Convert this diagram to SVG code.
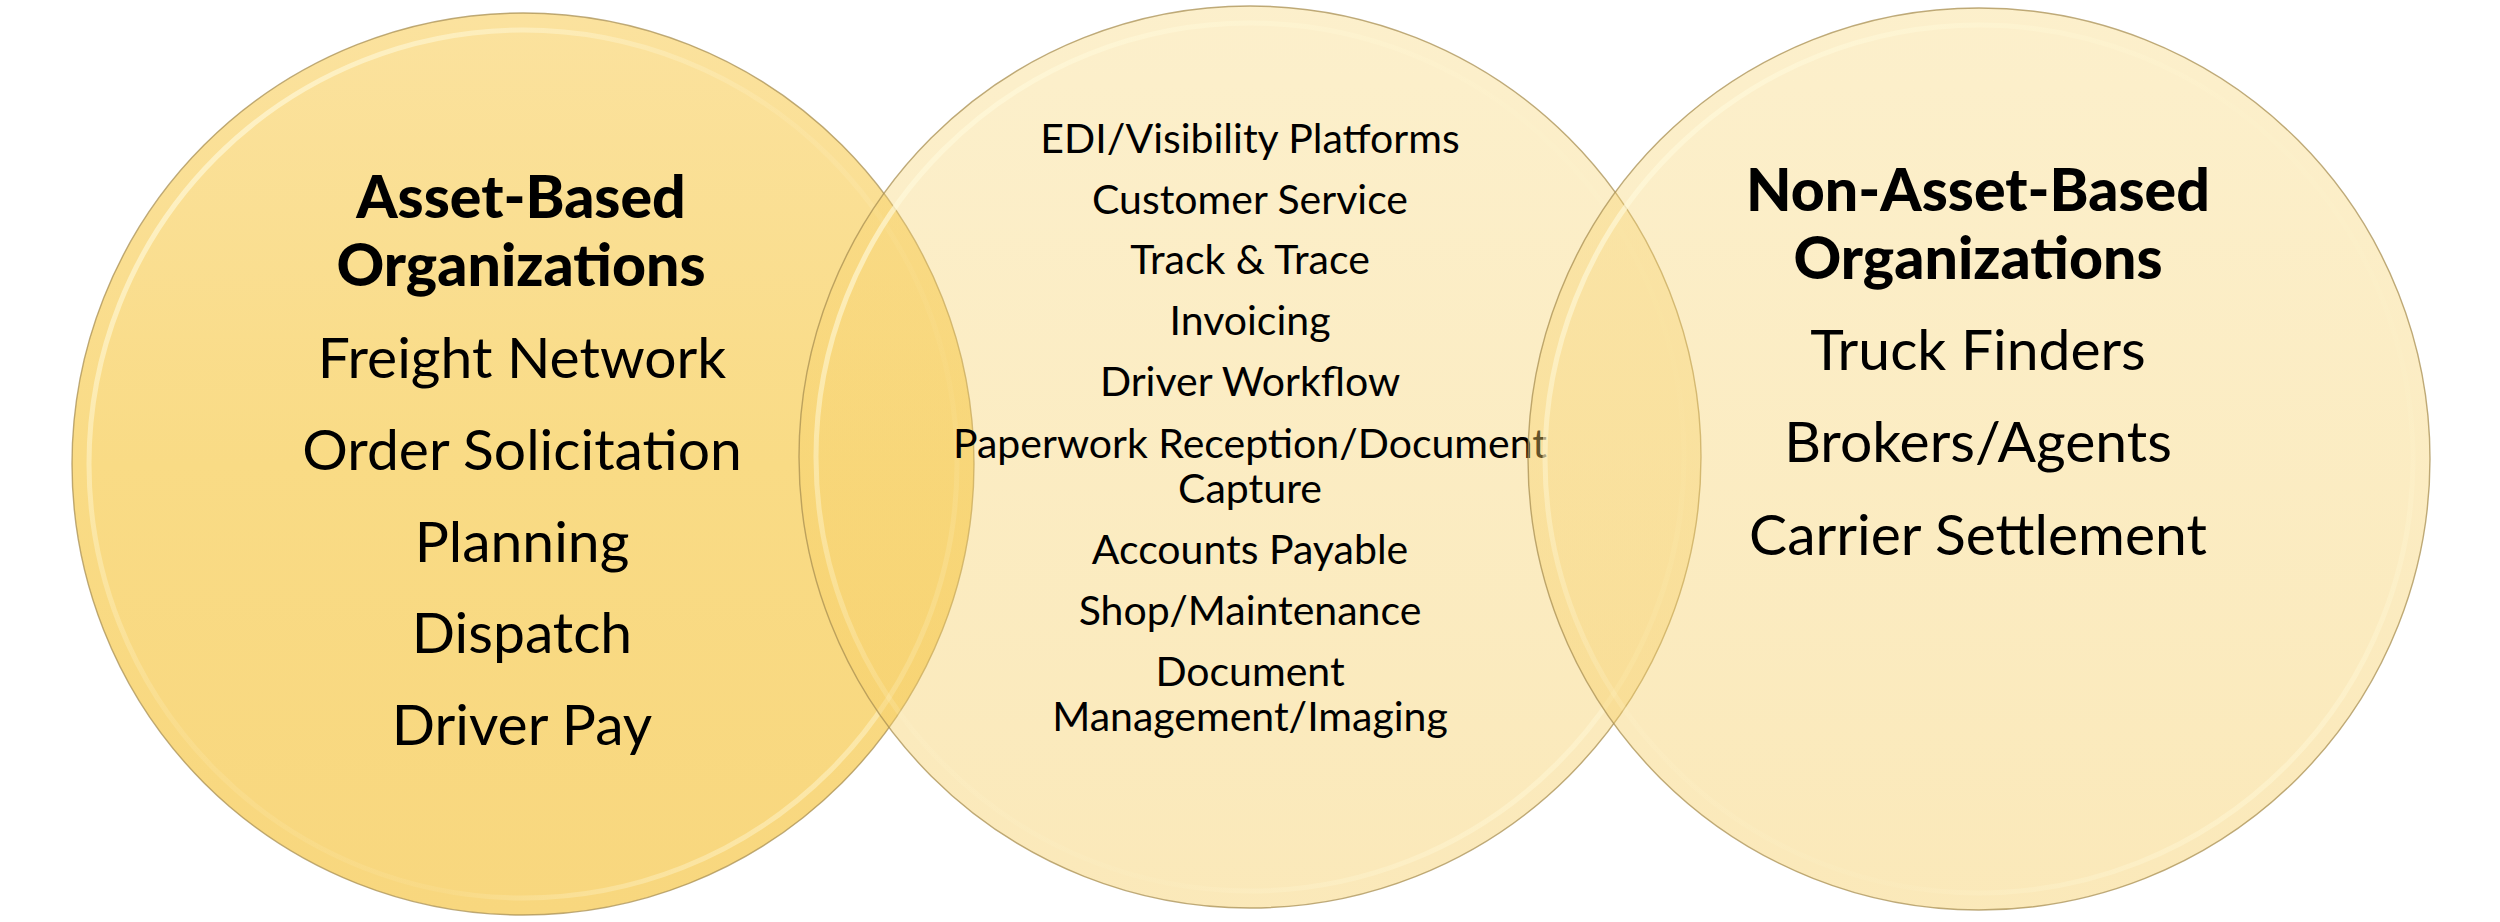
<svg xmlns="http://www.w3.org/2000/svg" width="2500" height="922" viewBox="0 0 2500 922">
  <style>
    .edge { fill: none; stroke: #A88F52; stroke-opacity: 0.75; stroke-width: 1.4; }
    .rim { fill: none; stroke: url(#rimG); stroke-width: 5; }
    .title { font-family: Lato, "Liberation Sans", sans-serif; font-weight: 900; font-size: 59px; fill: #000; text-anchor: middle; }
    .item { font-family: Lato, "Liberation Sans", sans-serif; font-weight: 400; font-size: 57px; fill: #000; text-anchor: middle; }
    .small { font-family: Lato, "Liberation Sans", sans-serif; font-weight: 400; font-size: 41px; fill: #000; text-anchor: middle; }
  </style>
  <defs>
    <linearGradient id="gL" x1="0" y1="0" x2="0" y2="1">
      <stop offset="0" stop-color="#FBE29E"/>
      <stop offset="0.5" stop-color="#F9DB85"/>
      <stop offset="1" stop-color="#F8D77E"/>
    </linearGradient>
    <linearGradient id="gT" x1="0" y1="0" x2="0" y2="1">
      <stop offset="0" stop-color="#F7D470" stop-opacity="0.36"/>
      <stop offset="1" stop-color="#F5CC60" stop-opacity="0.44"/>
    </linearGradient>
    <linearGradient id="rimG" x1="0" y1="0" x2="1" y2="1">
      <stop offset="0" stop-color="#FFFBE0" stop-opacity="0.9"/>
      <stop offset="0.45" stop-color="#FFF6D0" stop-opacity="0.15"/>
      <stop offset="0.7" stop-color="#FFF6D0" stop-opacity="0.1"/>
      <stop offset="1" stop-color="#FFFBE0" stop-opacity="0.8"/>
    </linearGradient>
  </defs>
  <rect width="2500" height="922" fill="#FFFFFF"/>

  <g id="node-asset-based">
    <circle cx="523" cy="464" r="451" fill="url(#gL)"/>
    <circle cx="523" cy="464" r="434" class="rim"/>
    <circle cx="523" cy="464" r="451" class="edge"/>
    <text class="title" x="521" y="218">Asset-Based</text>
    <text class="title" x="521" y="286">Organizations</text>
    <text class="item" x="522" y="378">Freight Network</text>
    <text class="item" x="522" y="470">Order Solicitation</text>
    <text class="item" x="522" y="562">Planning</text>
    <text class="item" x="522" y="653">Dispatch</text>
    <text class="item" x="522" y="745">Driver Pay</text>
  </g>

  <g id="node-shared">
    <circle cx="1250" cy="457" r="451" fill="url(#gT)"/>
    <circle cx="1250" cy="457" r="434" class="rim"/>
    <circle cx="1250" cy="457" r="451" class="edge"/>
    <text class="small" x="1250" y="153">EDI/Visibility Platforms</text>
    <text class="small" x="1250" y="214">Customer Service</text>
    <text class="small" x="1250" y="274">Track &amp; Trace</text>
    <text class="small" x="1250" y="335">Invoicing</text>
    <text class="small" x="1250" y="396">Driver Workflow</text>
    <text class="small" x="1250" y="458">Paperwork Reception/Document</text>
    <text class="small" x="1250" y="503">Capture</text>
    <text class="small" x="1250" y="564">Accounts Payable</text>
    <text class="small" x="1250" y="625">Shop/Maintenance</text>
    <text class="small" x="1250" y="686">Document</text>
    <text class="small" x="1250" y="731">Management/Imaging</text>
  </g>

  <g id="node-non-asset-based">
    <circle cx="1979" cy="459" r="451" fill="url(#gT)"/>
    <circle cx="1979" cy="459" r="434" class="rim"/>
    <circle cx="1979" cy="459" r="451" class="edge"/>
    <text class="title" x="1978" y="211">Non-Asset-Based</text>
    <text class="title" x="1978" y="279">Organizations</text>
    <text class="item" x="1978" y="370">Truck Finders</text>
    <text class="item" x="1978" y="462">Brokers/Agents</text>
    <text class="item" x="1978" y="555">Carrier Settlement</text>
  </g>

  <g id="connectors"/>
</svg>
